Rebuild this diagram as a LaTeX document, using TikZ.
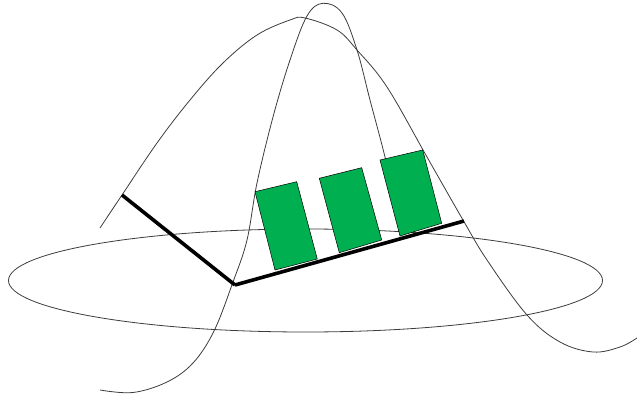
\documentclass[tikz,border=0pt]{standalone}
\usepackage{tikz}
\definecolor{hatgreen}{RGB}{0,176,80}
\definecolor{thinline}{RGB}{60,60,60}
\tikzset{
  thincurve/.style={draw=thinline, line width=0.8pt},
  band/.style={fill=hatgreen, draw=black, line width=0.5pt},
  thickedge/.style={draw=black, line width=3.6pt},
}
\begin{document}
\begin{tikzpicture}[x=1pt,y=-1pt]
\useasboundingbox (0,0) rectangle (637,398);
% brim
\draw[thincurve] (305.5,280.5) ellipse [x radius=297, y radius=51.5];
% broad curve
\draw[thincurve] plot[smooth, tension=0.6] coordinates {
 (100,228) (122,195) (157,143) (190,100) (223,63) (257,35) (290,20) (305,18)
 (337,30) (357,50) (387,87) (427,157) (463,220) (487,260) (527,315) (560,342)
 (593,352) (620,347) (637,338)};
% narrow curve
\draw[thincurve] plot[smooth, tension=0.6] coordinates {
 (100,390) (133,392.5) (167,382) (193,363) (214,331) (233,282) (247,240)
 (257,183) (273,117) (290,60) (307,16) (323,3.3) (342,13) (357,50) (370,100)
 (385,157) (393,195)};
% green bands
\coordinate (r1a) at (255,191.7); \coordinate (r1b) at (296.7,181.7);
\coordinate (r1c) at (317.3,259);  \coordinate (r1d) at (275,270);
\coordinate (r2a) at (319.3,178.3); \coordinate (r2b) at (361.7,167.7);
\coordinate (r2c) at (381.7,240);   \coordinate (r2d) at (339.3,252.7);
\coordinate (r3a) at (380,160);     \coordinate (r3b) at (422.7,150);
\coordinate (r3c) at (441.7,223.3); \coordinate (r3d) at (400,236);
\filldraw[band] (r1a) -- (r1b) -- (r1c) -- (r1d) -- cycle;
\filldraw[band] (r2a) -- (r2b) -- (r2c) -- (r2d) -- cycle;
\filldraw[band] (r3a) -- (r3b) -- (r3c) -- (r3d) -- cycle;
% thick edges
\coordinate (ta) at (122,195);
\coordinate (tb) at (235,285);
\coordinate (tc) at (464,221);
\draw[thickedge] (ta) -- (tb);
\draw[thickedge] (tb) -- (tc);
\end{tikzpicture}
\end{document}
